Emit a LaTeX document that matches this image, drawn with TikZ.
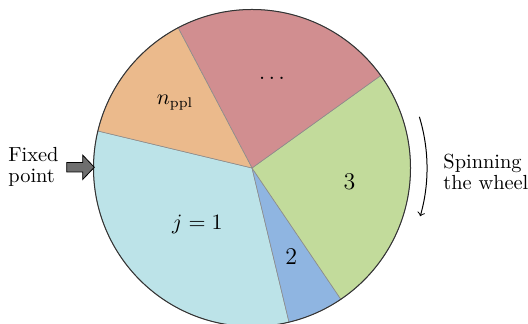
\documentclass[tikz,border=0pt]{standalone}
\usetikzlibrary{arrows.meta}
\definecolor{cyanS}{RGB}{188,227,232}
\definecolor{blueS}{RGB}{143,181,225}
\definecolor{greenS}{RGB}{194,219,155}
\definecolor{redS}{RGB}{209,142,144}
\definecolor{orangeS}{RGB}{235,186,140}
\begin{document}
\begin{tikzpicture}[x=0.5pt,y=0.5pt,
  sector/.style={draw=black!45, line width=0.3pt},
  lbl/.style={inner sep=0pt, font=\fontsize{10.5}{12}\selectfont},
  sidetext/.style={align=left, anchor=west, inner sep=0pt, font=\fontsize{10.2}{10.8}\selectfont}]
\useasboundingbox (0,0) rectangle (528,324);
\coordinate (C) at (252,156);
\def\R{158.5}
\filldraw[sector, fill=cyanS] (C) -- ++(166.5:\R) arc[start angle=166.5, end angle=283.5, radius=\R] -- cycle;
\filldraw[sector, fill=blueS] (C) -- ++(283.5:\R) arc[start angle=283.5, end angle=304.1, radius=\R] -- cycle;
\filldraw[sector, fill=greenS] (C) -- ++(304.1:\R) arc[start angle=304.1, end angle=395.7, radius=\R] -- cycle;
\filldraw[sector, fill=redS] (C) -- ++(35.7:\R) arc[start angle=35.7, end angle=117.8, radius=\R] -- cycle;
\filldraw[sector, fill=orangeS] (C) -- ++(117.8:\R) arc[start angle=117.8, end angle=166.5, radius=\R] -- cycle;
\draw[line width=0.5pt, black!80] (C) circle[radius=\R];
% labels
\node[lbl] (j1) at (197.4,100) {$j=1$};
\node[lbl, font=\large] (s2) at (291.3,67) {$2$};
\node[lbl, font=\large] (s3) at (349.5,142.7) {$3$};
\node[lbl] (sd) at (272,246) {$\dots$};
\node[lbl] (sn) at (175,221) {$n_{\mathrm{ppl}}$};
% fixed point
\node[sidetext] (fixed) at (8,157) {Fixed\\point};
\coordinate (fp) at (94.3,156.7);
\draw[fill=black!57, draw=black, line width=0.4pt] (66.7,152) -- (82.7,152) -- (82.7,144.5) -- (fp) -- (82.7,168.9) -- (82.7,161.4) -- (66.7,161.4) -- cycle;
% spinning
\node[sidetext] (spin) at (443,152) {Spinning\\the wheel};
\draw[-to, line width=0.5pt] (C) ++(17:175) arc[start angle=17, end angle=-16, radius=175];
\end{tikzpicture}
\end{document}
